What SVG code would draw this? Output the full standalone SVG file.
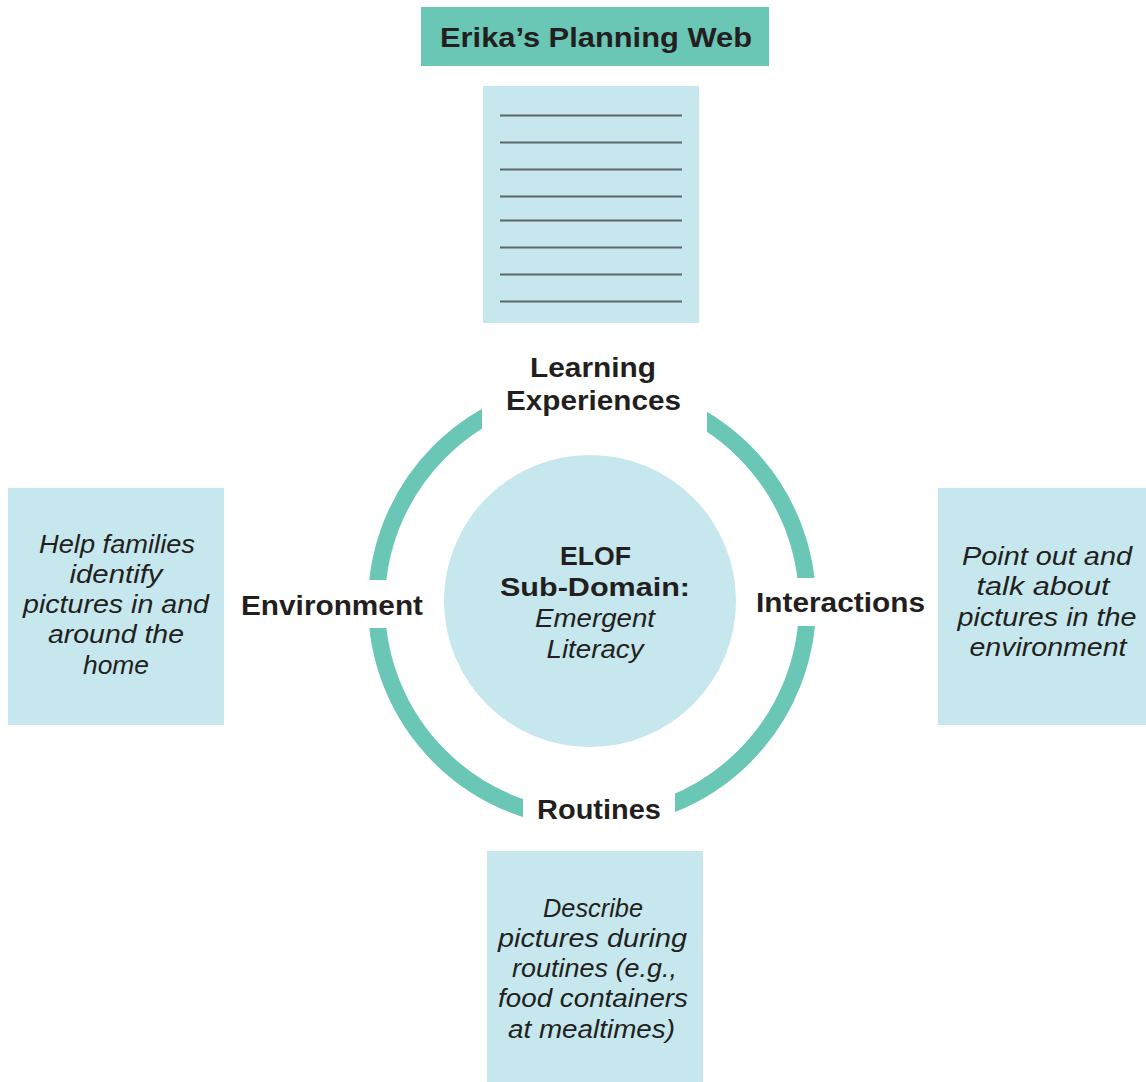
<svg xmlns="http://www.w3.org/2000/svg" width="1146" height="1082" viewBox="0 0 1146 1082">
<defs>
<style>
.bg{fill:#ffffff}
.teal{fill:#6AC6B5}
.box{fill:#C5E7ED}
.ring{fill:none;stroke:#6AC6B5;stroke-width:17}
.rule{stroke:#5E6669;stroke-width:2}
.bold{font-family:"Liberation Sans",Arial,sans-serif;font-weight:700;fill:#231F20;text-anchor:middle}
.hand{font-family:"Liberation Sans",Arial,sans-serif;font-style:italic;font-weight:400;fill:#231F20;text-anchor:middle;font-size:25px}
</style>
<mask id="gaps" maskUnits="userSpaceOnUse" x="0" y="0" width="1146" height="1082">
<rect x="0" y="0" width="1146" height="1082" fill="#fff"/>
<rect x="482" y="340" width="225" height="120" fill="#000"/>
<rect x="523" y="760" width="152" height="90" fill="#000"/>
<rect x="340" y="580" width="80" height="48" fill="#000"/>
<rect x="770" y="578" width="80" height="48" fill="#000"/>
</mask>
</defs>
<rect class="bg" x="0" y="0" width="1146" height="1082"/>

<g id="title">
<rect class="teal" x="421" y="7" width="348" height="59"/>
<text class="bold" x="596" y="47" font-size="28" textLength="312" lengthAdjust="spacingAndGlyphs">Erika’s Planning Web</text>
</g>

<g id="connectors">
<circle class="ring" cx="592" cy="604" r="215.5" mask="url(#gaps)"/>
</g>

<g id="learning-experiences">
<rect class="box" x="483" y="86" width="216" height="237"/>
<g class="rule">
<line x1="500" y1="115.5" x2="682" y2="115.5"/>
<line x1="500" y1="142.5" x2="682" y2="142.5"/>
<line x1="500" y1="169.5" x2="682" y2="169.5"/>
<line x1="500" y1="196.5" x2="682" y2="196.5"/>
<line x1="500" y1="220.5" x2="682" y2="220.5"/>
<line x1="500" y1="247.5" x2="682" y2="247.5"/>
<line x1="500" y1="274.5" x2="682" y2="274.5"/>
<line x1="500" y1="301.5" x2="682" y2="301.5"/>
</g>
<text class="bold" x="593" y="377" font-size="27" textLength="126" lengthAdjust="spacingAndGlyphs">Learning</text>
<text class="bold" x="593.5" y="410" font-size="27" textLength="175" lengthAdjust="spacingAndGlyphs">Experiences</text>
</g>

<g id="center">
<circle class="box" cx="590" cy="601" r="146"/>
<text class="bold" x="595.5" y="565" font-size="26.5" textLength="71" lengthAdjust="spacingAndGlyphs">ELOF</text>
<text class="bold" x="595" y="596" font-size="26.5" textLength="190" lengthAdjust="spacingAndGlyphs">Sub-Domain:</text>
<text class="hand" x="595" y="627" textLength="120" lengthAdjust="spacingAndGlyphs">Emergent</text>
<text class="hand" x="595" y="658" textLength="97" lengthAdjust="spacingAndGlyphs">Literacy</text>
</g>

<g id="environment">
<rect class="box" x="8" y="488" width="216" height="237"/>
<text class="hand" x="117" y="553" textLength="156" lengthAdjust="spacingAndGlyphs">Help families</text>
<text class="hand" x="116" y="583" textLength="93" lengthAdjust="spacingAndGlyphs">identify</text>
<text class="hand" x="116" y="613" textLength="186" lengthAdjust="spacingAndGlyphs">pictures in and</text>
<text class="hand" x="116" y="643" textLength="136" lengthAdjust="spacingAndGlyphs">around the</text>
<text class="hand" x="116" y="674" textLength="66" lengthAdjust="spacingAndGlyphs">home</text>
<text class="bold" x="332" y="615" font-size="27" textLength="182" lengthAdjust="spacingAndGlyphs">Environment</text>
</g>

<g id="interactions">
<rect class="box" x="938" y="488" width="208" height="237"/>
<text class="hand" x="1047" y="565" textLength="170" lengthAdjust="spacingAndGlyphs">Point out and</text>
<text class="hand" x="1043" y="595" textLength="133" lengthAdjust="spacingAndGlyphs">talk about</text>
<text class="hand" x="1047" y="626" textLength="179" lengthAdjust="spacingAndGlyphs">pictures in the</text>
<text class="hand" x="1048" y="656" textLength="157" lengthAdjust="spacingAndGlyphs">environment</text>
<text class="bold" x="840.5" y="612" font-size="27" textLength="169" lengthAdjust="spacingAndGlyphs">Interactions</text>
</g>

<g id="routines">
<rect class="box" x="487" y="851" width="216" height="231"/>
<text class="hand" x="593" y="917" textLength="100" lengthAdjust="spacingAndGlyphs">Describe</text>
<text class="hand" x="592.5" y="947" textLength="189" lengthAdjust="spacingAndGlyphs">pictures during</text>
<text class="hand" x="594.5" y="977" textLength="165" lengthAdjust="spacingAndGlyphs">routines (e.g.,</text>
<text class="hand" x="593" y="1007" textLength="190" lengthAdjust="spacingAndGlyphs">food containers</text>
<text class="hand" x="591.5" y="1038" textLength="167" lengthAdjust="spacingAndGlyphs">at mealtimes)</text>
<text class="bold" x="599" y="819" font-size="27" textLength="124" lengthAdjust="spacingAndGlyphs">Routines</text>
</g>
</svg>
